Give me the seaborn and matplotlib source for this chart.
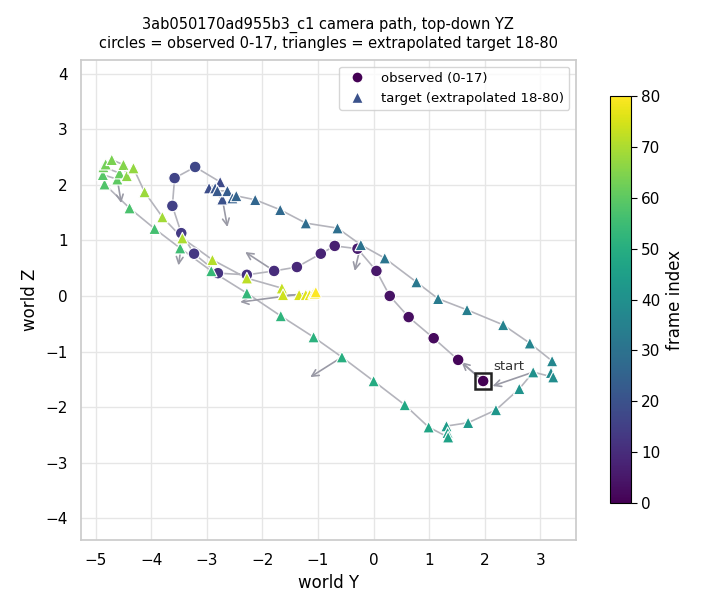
import matplotlib
matplotlib.use("Agg")

import numpy as np
import pandas as pd
import matplotlib.pyplot as plt
from matplotlib.lines import Line2D
import seaborn as sns

sns.set_theme(style="whitegrid", rc={
    "text.color": "black", "axes.labelcolor": "black",
    "xtick.color": "black", "ytick.color": "black",
    "grid.color": "#e6e6e6", "axes.edgecolor": "#cccccc",
})

# observed camera positions, frames 0-17 (world Y, world Z)
obs_y = [1.97, 1.52, 1.08, 0.63, 0.29, 0.05, -0.29, -0.70, -0.95, -1.38,
         -1.79, -2.28, -2.80, -3.23, -3.46, -3.62, -3.58, -3.21]
obs_z = [-1.53, -1.15, -0.76, -0.38, 0.00, 0.45, 0.85, 0.90, 0.76, 0.52,
         0.45, 0.38, 0.41, 0.76, 1.13, 1.62, 2.12, 2.32]

# extrapolated target positions, frames 18-80
tgt_y = [-2.76, -2.96, -2.72, -2.85, -2.81, -2.63, -2.54, -2.47, -2.13, -1.68,
         -1.22, -0.65, -0.23, 0.20, 0.77, 1.16, 1.68, 2.33, 2.81, 3.21,
         3.19, 3.23, 2.87, 2.62, 2.20, 1.70, 1.31, 1.33, 1.34, 0.99,
         0.56, 0.00, -0.57, -1.08, -1.67, -2.28, -2.92, -3.48, -3.94, -4.39,
         -4.84, -4.87, -4.61, -4.57, -4.86, -4.82, -4.71, -4.50, -4.44, -4.32,
         -4.12, -3.80, -3.44, -2.90, -2.28, -1.65, -1.63, -1.34, -1.22, -1.15,
         -1.08, -1.06, -1.04]
tgt_z = [2.05, 1.94, 1.74, 1.94, 1.89, 1.89, 1.76, 1.80, 1.73, 1.55,
         1.31, 1.22, 0.92, 0.68, 0.25, -0.05, -0.25, -0.52, -0.85, -1.17,
         -1.38, -1.46, -1.37, -1.67, -2.05, -2.28, -2.34, -2.46, -2.54, -2.36,
         -1.96, -1.53, -1.10, -0.74, -0.36, 0.05, 0.45, 0.86, 1.21, 1.58,
         2.01, 2.18, 2.10, 2.21, 2.32, 2.37, 2.45, 2.36, 2.16, 2.30,
         1.87, 1.42, 1.04, 0.65, 0.32, 0.14, 0.02, 0.02, 0.02, 0.02,
         0.05, 0.04, 0.07]

# heading arrows every 10 frames
arrow_frames = [0, 10, 20, 30, 40, 50, 60, 70, 80]
arrow_dy = [-0.39, -0.52, 0.09, -0.11, -0.73, -0.57, 0.07, -0.07, -1.36]
arrow_dz = [0.34, 0.34, -0.50, -0.47, -0.25, -0.36, -0.43, -0.49, -0.18]

n_obs = len(obs_y)
df = pd.DataFrame({"Y": obs_y + tgt_y, "Z": obs_z + tgt_z})
df["frame"] = np.arange(len(df))
df["kind"] = np.where(df["frame"] < n_obs, "observed", "target")
last = int(df["frame"].max())

fig = plt.figure(figsize=(7.2, 6.12), dpi=100)
ax = fig.add_axes([0.111, 0.1176, 0.690, 0.784])
cax = fig.add_axes([0.847, 0.178, 0.029, 0.665])

# path line
ax.plot(df["Y"], df["Z"], color="#b4b4bc", lw=1.2, zorder=1)

# heading arrows
for f, dy, dz in zip(arrow_frames, arrow_dy, arrow_dz):
    y0, z0 = df.loc[f, "Y"], df.loc[f, "Z"]
    ax.annotate("", xy=(y0 + dy, z0 + dz), xytext=(y0, z0),
                arrowprops=dict(arrowstyle="->", color="#9a9aa6", lw=1.2,
                                shrinkA=0, shrinkB=0), zorder=2)

obs = df[df["kind"] == "observed"]
tgt = df[df["kind"] == "target"]
sns.scatterplot(data=obs, x="Y", y="Z", hue="frame", palette="viridis",
                hue_norm=(0, last), marker="o", s=70, edgecolor="white",
                linewidth=0.8, legend=False, ax=ax, zorder=3)
sns.scatterplot(data=tgt, x="Y", y="Z", hue="frame", palette="viridis",
                hue_norm=(0, last), marker="^", s=70, edgecolor="white",
                linewidth=0.8, legend=False, ax=ax, zorder=3)

# start marker
ax.plot(obs_y[0], obs_z[0], marker="s", ms=11, mfc="none", mec="#222222",
        mew=1.8, zorder=4)
ax.annotate("start", xy=(obs_y[0], obs_z[0]), xytext=(7, 8),
            textcoords="offset points", fontsize=9.5, color="#333333")

cmap = plt.get_cmap("viridis")
handles = [
    Line2D([], [], ls="", marker="o", color=cmap(0.0), markeredgecolor="white",
           markersize=8),
    Line2D([], [], ls="", marker="^", color=cmap(0.25), markeredgecolor="white",
           markersize=8),
]
ax.legend(handles, [f"observed (0-{n_obs - 1})", f"target (extrapolated {n_obs}-{last})"],
          loc="upper right", fontsize=9.5)

ax.set_xlim(-5.27, 3.64)
ax.set_ylim(-4.39, 4.24)
ax.set_aspect("equal")
ax.set_xticks(range(-5, 4))
ax.set_yticks(range(-4, 5))
ax.set_xlabel("world Y")
ax.set_ylabel("world Z")
ax.set_title("3ab050170ad955b3_c1 camera path, top-down YZ\n"
             f"circles = observed 0-{n_obs - 1}, triangles = extrapolated target {n_obs}-{last}",
             fontsize=10.5, pad=9)

sm = plt.cm.ScalarMappable(norm=plt.Normalize(0, last), cmap="viridis")
cb = fig.colorbar(sm, cax=cax)
cb.set_label("frame index")
cb.set_ticks(range(0, last + 1, 10))
cb.outline.set_edgecolor("black")
cb.outline.set_linewidth(0.8)
cax.tick_params(axis="y", right=True, length=4, width=0.8, color="black")

fig.savefig("out.png", dpi=100)
